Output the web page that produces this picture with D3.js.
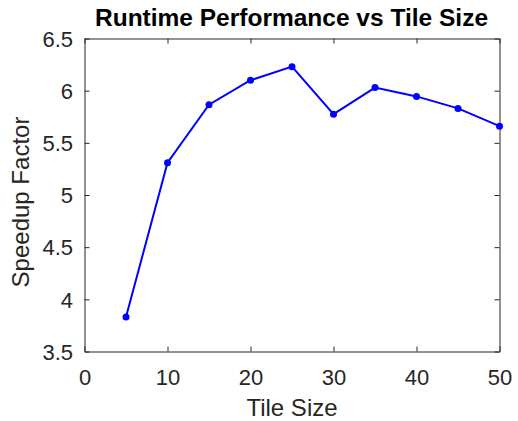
<!DOCTYPE html>
<html><head><meta charset="utf-8">
<script src="https://cdn.jsdelivr.net/npm/d3@7"></script>
<style>body{margin:0;background:#fff}svg{display:block}</style>
</head><body>
<svg id="c" width="518" height="421"></svg>
<script>
const tileSizes = [5,10,15,20,25,30,35,40,45,50];
const speedup = [3.83,5.31,5.865,6.10,6.23,5.775,6.03,5.945,5.83,5.66];
const xTicks = [0,10,20,30,40,50];
const yTicks = [3.5,4,4.5,5,5.5,6,6.5];
const titleText = "Runtime Performance vs Tile Size";
const xLabel = "Tile Size";
const yLabel = "Speedup Factor";

const svg = d3.select("#c");
const L=84.5,R=499.5,T=38.5,B=351.5;
const x = d3.scaleLinear().domain([0,50]).range([L,R]);
const y = d3.scaleLinear().domain([3.5,6.5]).range([B,T]);
const font = "'Liberation Sans', Arial, Helvetica, sans-serif";
const axColor = "#262626";

const gx = svg.append("g").attr("transform",`translate(0,${B})`)
  .call(d3.axisBottom(x).tickValues(xTicks).tickSizeInner(-5).tickSizeOuter(0).tickPadding(12).tickFormat(d3.format("d")));
const gy = svg.append("g").attr("transform",`translate(${L},0)`)
  .call(d3.axisLeft(y).tickValues(yTicks).tickSizeInner(-5).tickSizeOuter(0).tickPadding(12).tickFormat(d=>String(d)));
const gxt = svg.append("g").attr("transform",`translate(0,${T})`)
  .call(d3.axisTop(x).tickValues(xTicks).tickSizeInner(-5).tickSizeOuter(0).tickFormat(""));
const gyr = svg.append("g").attr("transform",`translate(${R},0)`)
  .call(d3.axisRight(y).tickValues(yTicks).tickSizeInner(-5).tickSizeOuter(0).tickFormat(""));
[gx,gy,gxt,gyr].forEach(g=>{
  g.selectAll("path,line").attr("stroke",axColor).attr("stroke-width",1);
  g.selectAll("text").attr("fill",axColor).style("font-family",font).style("font-size","22px");
});
gx.selectAll("text").attr("dy","0.71em").attr("y",18);
gy.selectAll("text").attr("dy","0.35em").attr("x",-11.5);

svg.append("path").datum(tileSizes.map((t,i)=>[t,speedup[i]]))
  .attr("fill","none").attr("stroke","#0000ff").attr("stroke-width",2)
  .attr("d",d3.line().x(d=>x(d[0])).y(d=>y(d[1])));
svg.selectAll("circle.m").data(tileSizes.map((t,i)=>[t,speedup[i]])).enter()
  .append("circle").attr("cx",d=>x(d[0])).attr("cy",d=>y(d[1])).attr("r",3.5).attr("fill","#0000ff");

svg.append("text").attr("x",291.5).attr("y",26).attr("text-anchor","middle")
  .style("font-family",font).style("font-size","24.5px").style("font-weight","bold").attr("fill","#000").text(titleText);
svg.append("text").attr("x",292).attr("y",416).attr("text-anchor","middle")
  .style("font-family",font).style("font-size","24px").attr("fill",axColor).text(xLabel);
svg.append("text").attr("transform",`translate(29,202) rotate(-90)`).attr("text-anchor","middle")
  .style("font-family",font).style("font-size","24px").attr("fill",axColor).text(yLabel);
</script>
</body></html>
